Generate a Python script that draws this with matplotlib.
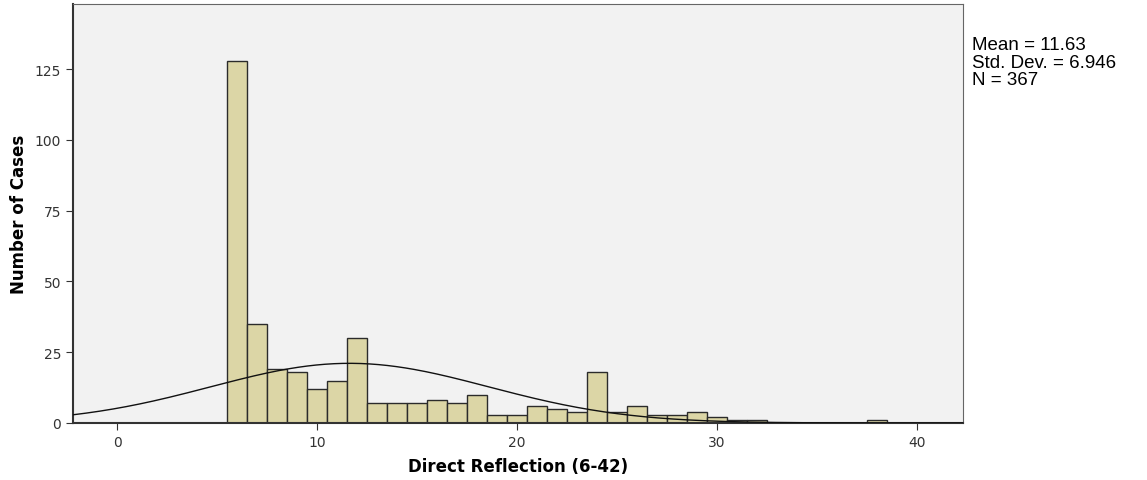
import numpy as np
import matplotlib.pyplot as plt

# histogram counts per score (bin width 1)
scores = [6, 7, 8, 9, 10, 11, 12, 13, 14, 15, 16, 17, 18, 19, 20, 21, 22,
          23, 24, 25, 26, 27, 28, 29, 30, 31, 32, 38]
counts = [128, 35, 19, 18, 12, 15, 30, 7, 7, 7, 8, 7, 10, 3, 3, 6, 5,
          4, 18, 4, 6, 3, 3, 4, 2, 1, 1, 1]

mean = 11.63
std = 6.946
n = 367

fig = plt.figure(figsize=(11.47, 4.81), dpi=100)
ax = fig.add_axes([73/1147, 57/481, 890/1147, 419/481])
ax.set_facecolor('#f2f2f2')

ax.bar(scores, counts, width=1.0, color='#dcd6a6', edgecolor='#2b2b2b',
       linewidth=1.0, zorder=2)

# fitted normal curve
xs = np.linspace(-2.2, 42.3, 400)
ys = n * 1.0 / (std * np.sqrt(2 * np.pi)) * np.exp(-0.5 * ((xs - mean) / std) ** 2)
ax.plot(xs, ys, color='#111111', linewidth=1.0, zorder=3)

ax.set_xlim(-2.2, 42.3)
ax.set_ylim(0, 148)
ax.set_xticks([0, 10, 20, 30, 40])
ax.set_yticks([0, 25, 50, 75, 100, 125])
ax.tick_params(axis='both', labelsize=10, colors='#333333', length=5)
for s in ax.spines.values():
    s.set_color('#666666')
ax.spines['left'].set_linewidth(1.5)
ax.spines['bottom'].set_linewidth(1.5)
ax.spines['left'].set_color('#333333')
ax.spines['bottom'].set_color('#333333')

ax.set_xlabel('Direct Reflection (6-42)', fontsize=12, fontweight='bold', labelpad=6)
ax.set_ylabel('Number of Cases', fontsize=12, fontweight='bold', labelpad=5)

fig.text(972/1147, 1 - 37/481, 'Mean = 11.63\nStd. Dev. = 6.946\nN = 367',
         fontsize=13.5, family='Liberation Sans', va='top', ha='left',
         linespacing=1.05)

fig.savefig('out.png', dpi=100)
